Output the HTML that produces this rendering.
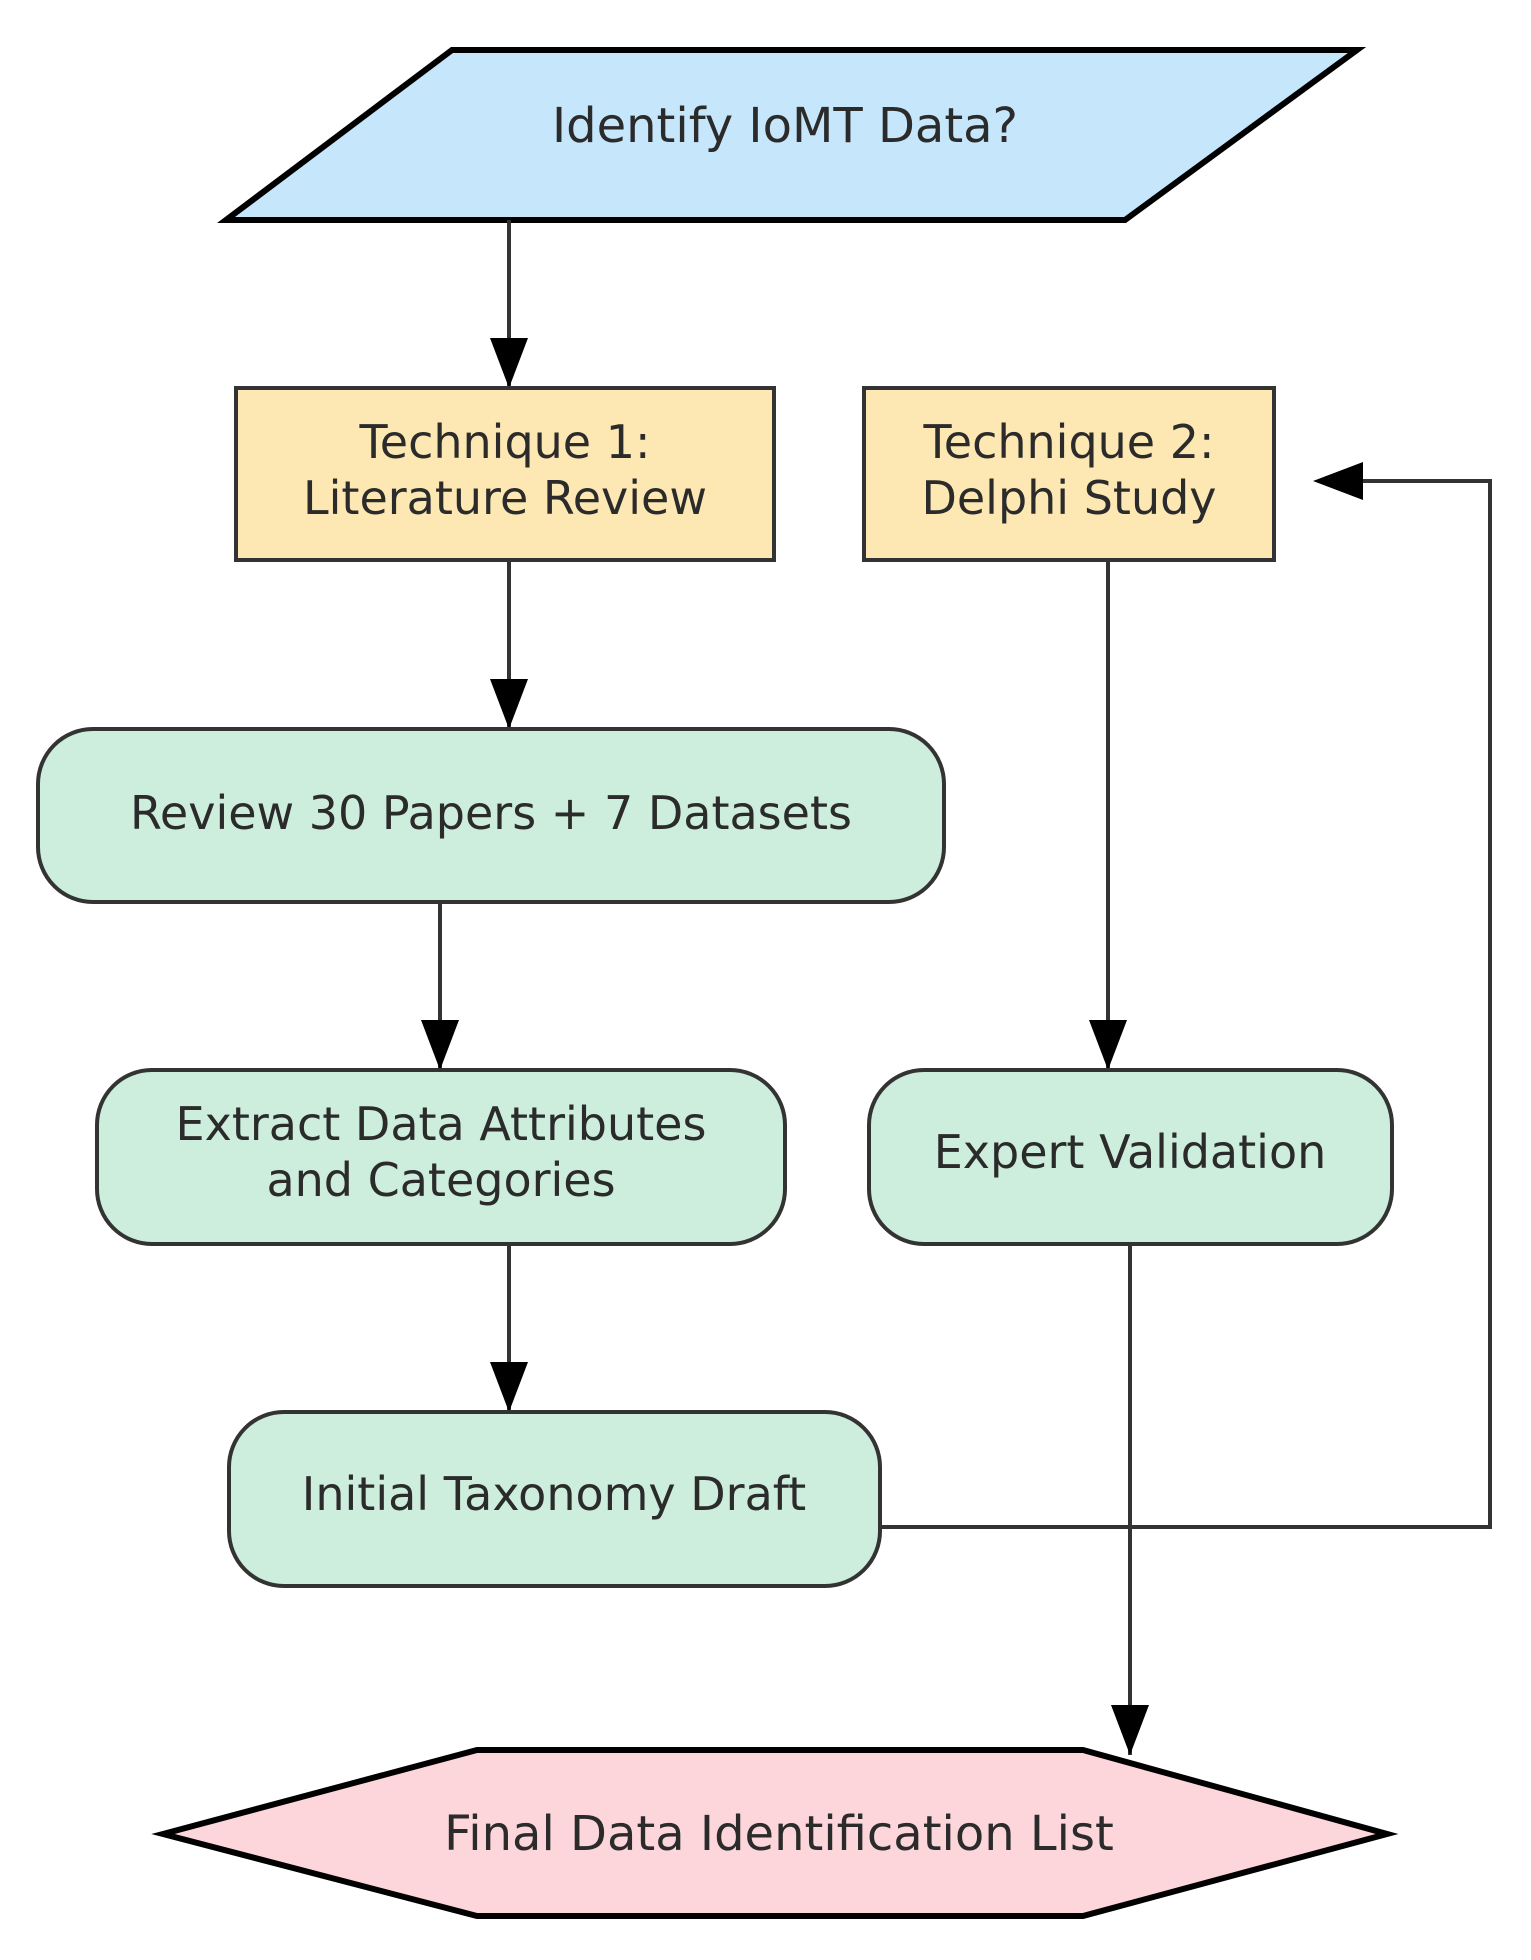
<!DOCTYPE html>
<html><head><meta charset="utf-8"><style>
html,body{margin:0;padding:0;background:#fff;}
svg{display:block;}
text{font-family:"DejaVu Sans","Liberation Sans",sans-serif;fill:#2b2b2b;text-anchor:middle;}
</style></head><body>
<svg width="1531" height="1960" viewBox="0 0 1531 1960" xmlns="http://www.w3.org/2000/svg">
<defs>
<marker id="ah" markerWidth="38" markerHeight="50" refX="19" refY="50" orient="auto-start-reverse" markerUnits="userSpaceOnUse" viewBox="0 0 38 50">
<path d="M0,0 L38,0 L19,50 Z" fill="#000"/>
</marker>
<marker id="al" markerWidth="50" markerHeight="38" refX="0" refY="19" markerUnits="userSpaceOnUse" viewBox="0 0 50 38">
<path d="M0,19 L50,0 L50,38 Z" fill="#000"/>
</marker>
</defs>

<!-- Parallelogram -->
<polygon points="452,50 1357,50 1125,220 226,220" fill="#c6e6fb" stroke="#000" stroke-width="6" stroke-linejoin="miter"/>
<text x="785" y="142" font-size="48">Identify IoMT Data?</text>

<!-- connectors -->
<g stroke="#333" stroke-width="4" fill="none">
<line x1="509" y1="220" x2="509" y2="388"/>
<line x1="509" y1="560" x2="509" y2="729"/>
<line x1="440" y1="902" x2="440" y2="1070"/>
<line x1="509" y1="1244" x2="509" y2="1412"/>
<line x1="1108" y1="560" x2="1108" y2="1070"/>
<line x1="1130" y1="1244" x2="1130" y2="1755"/>
<polyline points="880,1527 1490,1527 1490,481 1363,481"/>
</g>
<g fill="#000">
<path d="M490,338 L528,338 L509,388 Z"/>
<path d="M490,679 L528,679 L509,729 Z"/>
<path d="M421,1020 L459,1020 L440,1070 Z"/>
<path d="M490,1362 L528,1362 L509,1412 Z"/>
<path d="M1089,1020 L1127,1020 L1108,1070 Z"/>
<path d="M1111,1705 L1149,1705 L1130,1755 Z"/>
<path d="M1313,481 L1363,462 L1363,500 Z"/>
</g>

<!-- Technique boxes -->
<rect x="236" y="388" width="538" height="172" fill="#fde8b3" stroke="#333" stroke-width="4"/>
<text x="505" y="458" font-size="46">Technique 1:</text>
<text x="505" y="514" font-size="46">Literature Review</text>
<rect x="864" y="388" width="410" height="172" fill="#fde8b3" stroke="#333" stroke-width="4"/>
<text x="1069" y="458" font-size="46">Technique 2:</text>
<text x="1069" y="514" font-size="46">Delphi Study</text>

<!-- green boxes -->
<rect x="38" y="729" width="906" height="173" rx="55" fill="#cdeedd" stroke="#333" stroke-width="4"/>
<text x="491" y="829" font-size="46">Review 30 Papers + 7 Datasets</text>
<rect x="97" y="1070" width="688" height="174" rx="55" fill="#cdeedd" stroke="#333" stroke-width="4"/>
<text x="441" y="1140" font-size="46">Extract Data Attributes</text>
<text x="441" y="1196" font-size="46">and Categories</text>
<rect x="869" y="1070" width="523" height="174" rx="55" fill="#cdeedd" stroke="#333" stroke-width="4"/>
<text x="1130" y="1168" font-size="46">Expert Validation</text>
<rect x="229" y="1412" width="651" height="174" rx="55" fill="#cdeedd" stroke="#333" stroke-width="4"/>
<text x="554" y="1510" font-size="46">Initial Taxonomy Draft</text>

<!-- hexagon -->
<polygon points="163,1834 477,1750 1083,1750 1387,1834 1083,1916 477,1916" fill="#fdd6dc" stroke="#000" stroke-width="6"/>
<text x="779" y="1850" font-size="48">Final Data Identification List</text>
</svg>
</body></html>
